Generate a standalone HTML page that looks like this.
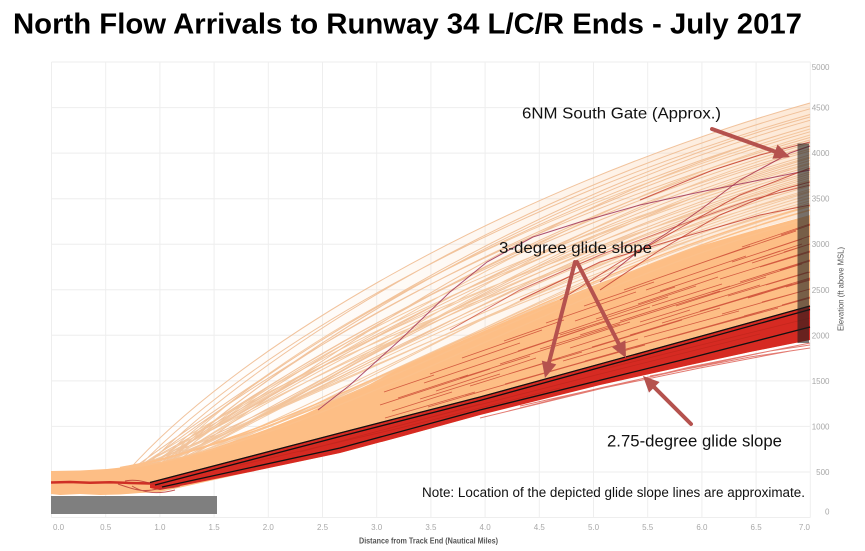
<!DOCTYPE html>
<html><head><meta charset="utf-8">
<style>
html,body{margin:0;padding:0;background:#fff;}
svg{display:block;}
text{font-family:"Liberation Sans",Arial,sans-serif;}
</style></head>
<body>
<svg width="865" height="551" viewBox="0 0 865 551">
<defs>
<linearGradient id="sg" gradientUnits="userSpaceOnUse" x1="150" y1="0" x2="810" y2="0">
<stop offset="0" stop-color="#f9c494" stop-opacity="0"/>
<stop offset="0.5" stop-color="#f9c494" stop-opacity="0.12"/>
<stop offset="1" stop-color="#f9c494" stop-opacity="0.38"/>
</linearGradient>
</defs>
<rect width="865" height="551" fill="#fff"/>
<g stroke="#eeeeee" stroke-width="1">
<line x1="51.5" y1="62" x2="810.3" y2="62"/><line x1="51.5" y1="107.6" x2="810.3" y2="107.6"/><line x1="51.5" y1="153.1" x2="810.3" y2="153.1"/><line x1="51.5" y1="198.7" x2="810.3" y2="198.7"/><line x1="51.5" y1="244.2" x2="810.3" y2="244.2"/><line x1="51.5" y1="289.8" x2="810.3" y2="289.8"/><line x1="51.5" y1="335.3" x2="810.3" y2="335.3"/><line x1="51.5" y1="380.9" x2="810.3" y2="380.9"/><line x1="51.5" y1="426.4" x2="810.3" y2="426.4"/><line x1="51.5" y1="472" x2="810.3" y2="472"/><line x1="51.5" y1="517.5" x2="810.3" y2="517.5"/>
<line x1="51.5" y1="62" x2="51.5" y2="517.5"/><line x1="105.7" y1="62" x2="105.7" y2="517.5"/><line x1="159.9" y1="62" x2="159.9" y2="517.5"/><line x1="214.1" y1="62" x2="214.1" y2="517.5"/><line x1="268.3" y1="62" x2="268.3" y2="517.5"/><line x1="322.5" y1="62" x2="322.5" y2="517.5"/><line x1="376.7" y1="62" x2="376.7" y2="517.5"/><line x1="430.9" y1="62" x2="430.9" y2="517.5"/><line x1="485.1" y1="62" x2="485.1" y2="517.5"/><line x1="539.3" y1="62" x2="539.3" y2="517.5"/><line x1="593.5" y1="62" x2="593.5" y2="517.5"/><line x1="647.7" y1="62" x2="647.7" y2="517.5"/><line x1="701.9" y1="62" x2="701.9" y2="517.5"/><line x1="756.1" y1="62" x2="756.1" y2="517.5"/><line x1="810.3" y1="62" x2="810.3" y2="517.5"/>
</g>

<path fill="url(#sg)" d="M120,480 C230,350 500,190 810,103 L810,215 C560,275 330,435 120,467 Z"/>

<path fill="none" stroke="#f0bd92" stroke-width="1" stroke-opacity="0.9" d="M120,480C230,350 500,190 810,103 M127,479.4C238.5,354.5 506,200 810,114.5 M134,478.7C247,359 503,195 810,108.8 M141,478C255.5,363.5 512,210 810,126 M148,477.4C264,368 509,205 810,120.3 M155,478.7C257.5,359 518,220 810,137.5 M122,476.1C261,377 506,200 810,117 M129,476.8C259.5,372.5 515,215 810,131.8 M136,476.1C268,377 521,225 810,143.3 M143,475.5C276.5,381.5 518,220 810,140 M150,477.4C265,368 524,230 810,149 M157,474.8C288.5,386 512,210 810,126 M124,474.2C277,390.5 527,235 810,154.8 M131,473.5C285.5,395 524,230 810,151 M138,474.8C279,386 530,240 810,160.5 M145,472.9C297.5,399.5 533,245 810,166.3 M152,472.2C306,404 530,240 810,158 M159,473.5C299.5,395 536,250 810,172 M126,471.6C298,408.5 539,255 810,177.8 M133,470.9C306.5,413 536,250 810,174"/>
<path fill="none" stroke="#f3c49a" stroke-width="1" stroke-opacity="0.9" d="M140,472.2C300,404 542,260 810,183.5 M147,470.3C318.5,417.5 545,265 810,189.3 M154,469.6C327,422 542,260 810,186 M121,470.9C300.5,413 548,270 810,195 M128,469C319,426.5 551,275 810,200.8 M135,468.3C327.5,431 548,270 810,198 M142,469.6C321,422 554,280 810,206.5 M149,475.5C279.5,381.5 536,250 810,169 M156,478C263,363.5 530,240 810,163 M123,472.9C286.5,399.5 518,220 810,135 M130,474.2C280,390.5 542,260 810,181 M137,476.8C263.5,372.5 533,245 810,164 M144,471.6C307,408.5 527,235 810,157 M151,479.4C250.5,354.5 515,215 810,129 M158,473.5C299,395 548,270 810,192 M125,476.1C262.5,377 545,265 810,191 M132,472.2C296,404 551,275 810,203 M139,470.9C309.5,413 521,225 810,146 M146,474.8C283,386 539,255 810,176 M153,477.4C266.5,368 539,255 810,180"/>

<path fill="#fdbe85" d="M51,471 L80,470.5 L107,469 L135,466 L160,462 L187,456 L213,448 L240,439 L270,428 L305,414 L340,398 L370,384 L400,368 L450,346 L500,324 L550,303 L600,283 L650,264 L700,246 L755,230 L810,215 L810,340 L790,344 L750,352 L690,365 L600,385 L480,415 L400,437 L340,453 L250,472 L160,492 L140,493 L120,494.5 L100,495 L80,494 L60,495 L51,494 Z"/>
<path fill="none" stroke="#fcc08a" stroke-width="1.5" d="M120,467.6C325,432 557,280 810,210 M124,468.5C318,428 552,276 810,206 M130,468C330,438 560,286 810,218"/>

<path fill="none" stroke="#c5392a" stroke-width="0.8" stroke-opacity="0.75" d="M385,418l90,-26M392,411l60,-19M380,405l110,-36M398,398l70,-23M384,392l50,-17M428,407l120,-35M420,399l80,-25M436,391l100,-33M424,383l60,-20M430,374l90,-31M465,396l140,-40M470,386l90,-28M460,378l70,-22M475,366l110,-37M462,358l80,-28M505,384l120,-34M512,373l70,-21M500,364l130,-42M518,351l90,-30M504,341l60,-21M545,373l100,-28M552,360l130,-40M540,349l80,-25M558,334l110,-37M546,323l90,-31M585,361l110,-31M592,347l80,-24M580,335l140,-44M596,319l100,-33M584,306l70,-24M626,349l120,-33M630,335l90,-27M620,321l110,-35M638,304l80,-27M624,290l120,-42M668,338l110,-30M662,323l130,-39M676,306l90,-29M660,291l120,-40M670,274l80,-28M706,327l100,-28M700,311l110,-33M712,292l90,-28M702,277l100,-33M716,258l80,-27M744,316l66,-18M748,298l62,-19M740,282l70,-22M752,263l58,-19M742,247l68,-23M782,305l28,-8M786,287l24,-7M780,270l30,-9M784,252l26,-8M781,235l29,-10M563,361l75,-22M570,348l120,-38M560,335l90,-28M575,321l100,-34M644,337l95,-26M640,322l120,-37M652,306l70,-22M646,290l100,-34M722,314l88,-25M728,296l80,-24M720,279l90,-28M732,262l70,-23M762,302l48,-13M766,285l44,-13M760,267l50,-15M768,250l42,-14"/>

<g fill="none" stroke-width="1">
<polyline stroke="#a0345a" stroke-opacity="0.85" points="318,410 350,385 400,340 450,292 487,262 533,237 580,222 640,205 700,192 760,180 810,170"/>
<polyline stroke="#a8304a" stroke-opacity="0.85" points="600,282 640,250 667,233 700,210 740,180 790,153 810,146"/>
<polyline stroke="#c33a2c" stroke-opacity="0.8" points="560,300 620,262 680,228 740,195 810,168"/>
<polyline stroke="#c33a2c" stroke-opacity="0.8" points="600,290 660,250 720,215 780,190 810,182"/>
<polyline stroke="#c33a2c" stroke-opacity="0.8" points="520,300 600,262 680,238 760,215 810,205"/>
<polyline stroke="#c33a2c" stroke-opacity="0.8" points="640,200 713,170 760,155 810,142"/>
<polyline stroke="#c33a2c" stroke-opacity="0.7" points="450,330 520,290 600,255 680,225 750,200 810,185"/>
</g>

<path fill="#d62a22" d="M150,482 L340,432.5 L480,396.5 L690,338.8 L810,305.5 L810,340 L790,344 L750,352 L690,365 L600,385 L480,415 L400,437 L340,453 L250,472 L200,482 L160,490 L150,488 Z"/>
<path fill="none" stroke="#d43325" stroke-width="1" stroke-opacity="0.65" d="M480,418 L690,367 L790,347 M520,408 L600,388 L750,355 L810,343 M520,406 L690,368 L770,351 L810,345 M650,376 L750,357 L810,348 M560,397 L700,368 L790,351"/>
<path fill="none" stroke="#b8241b" stroke-width="0.8" stroke-opacity="0.6" d="M240,465 L400,428 L560,388 M420,420 L600,374 L760,334 M600,370 L810,318 M300,452 L480,404"/>

<polyline fill="none" stroke="#cf2f25" stroke-width="2.5" points="51,482.5 70,482 90,482.8 110,482.3 130,483 150,483.5"/>
<path fill="none" stroke="#b73030" stroke-width="1" stroke-opacity="0.8" d="M118,484 C130,488 140,492 152,490 C160,488 170,489 180,486 M125,481 C138,478 150,484 165,487 M132,486 C145,494 160,494 175,490"/>

<g fill="none" stroke="#111" stroke-width="1.3">
<polyline points="150,482.5 340,433 480,397 690,339.3 810,306"/>
<polyline points="155,485 340,436.5 480,400.5 690,342.7 810,309.5"/>
<polyline points="162,487 340,448 480,410 690,358 810,327"/>
</g>

<rect x="51" y="496" width="166" height="18" fill="#7f7f7f"/>
<rect x="797.5" y="143.5" width="11.5" height="199.5" fill="rgb(30,30,30)" fill-opacity="0.6"/>

<text x="13" y="33.5" font-size="28.5" font-weight="bold" fill="#000" textLength="789" lengthAdjust="spacingAndGlyphs">North Flow Arrivals to Runway 34 L/C/R Ends - July 2017</text>

<g font-size="8" fill="#a8a8a8">
<text x="53" y="530">0.0</text>
<text x="105.7" y="530" text-anchor="middle">0.5</text>
<text x="159.9" y="530" text-anchor="middle">1.0</text>
<text x="214.1" y="530" text-anchor="middle">1.5</text>
<text x="268.3" y="530" text-anchor="middle">2.0</text>
<text x="322.5" y="530" text-anchor="middle">2.5</text>
<text x="376.7" y="530" text-anchor="middle">3.0</text>
<text x="430.9" y="530" text-anchor="middle">3.5</text>
<text x="485.1" y="530" text-anchor="middle">4.0</text>
<text x="539.3" y="530" text-anchor="middle">4.5</text>
<text x="593.5" y="530" text-anchor="middle">5.0</text>
<text x="647.7" y="530" text-anchor="middle">5.5</text>
<text x="701.9" y="530" text-anchor="middle">6.0</text>
<text x="756.1" y="530" text-anchor="middle">6.5</text>
<text x="810" y="530" text-anchor="end">7.0</text>
</g>
<g font-size="8" fill="#a8a8a8" text-anchor="end">
<text x="829.5" y="70">5000</text>
<text x="829.5" y="110.6">4500</text>
<text x="829.5" y="156.1">4000</text>
<text x="829.5" y="201.7">3500</text>
<text x="829.5" y="247.2">3000</text>
<text x="829.5" y="292.8">2500</text>
<text x="829.5" y="338.3">2000</text>
<text x="829.5" y="383.9">1500</text>
<text x="829.5" y="429.4">1000</text>
<text x="829.5" y="475">500</text>
<text x="829.5" y="514.5">0</text>
</g>
<text x="359" y="543.5" font-size="8" font-weight="bold" fill="#555" textLength="139" lengthAdjust="spacingAndGlyphs">Distance from Track End (Nautical Miles)</text>
<text transform="translate(843.5,289) rotate(-90)" text-anchor="middle" font-size="8.5" fill="#555" textLength="84" lengthAdjust="spacingAndGlyphs">Elevation (ft above MSL)</text>

<g font-size="16" fill="#111">
<text x="522" y="118.3" textLength="199" lengthAdjust="spacingAndGlyphs">6NM South Gate (Approx.)</text>
<text x="499" y="253" textLength="153" lengthAdjust="spacingAndGlyphs">3-degree glide slope</text>
<text x="607" y="446.5" font-size="16.5" textLength="175" lengthAdjust="spacingAndGlyphs">2.75-degree glide slope</text>
<text x="422" y="497" font-size="13.5" textLength="383" lengthAdjust="spacingAndGlyphs">Note: Location of the depicted glide slope lines are approximate.</text>
</g>

<g stroke="#b5524e" stroke-width="4" fill="none" stroke-linecap="round">
<line x1="712" y1="129" x2="775" y2="151.6"/>
<line x1="575" y1="262" x2="549" y2="362.5"/>
<line x1="577" y1="262" x2="618.7" y2="343.7"/>
<line x1="691" y1="424" x2="654.3" y2="387.3"/>
</g>
<g fill="#b5524e">
<polygon points="790,157 772.4,158.7 777.5,144.5"/>
<polygon points="545,378 541.8,360.6 556.3,364.4"/>
<polygon points="626,358 612.1,347.2 625.4,340.3"/>
<polygon points="643,376 659.6,382 649,392.6"/>
</g>
</svg>
</body></html>
